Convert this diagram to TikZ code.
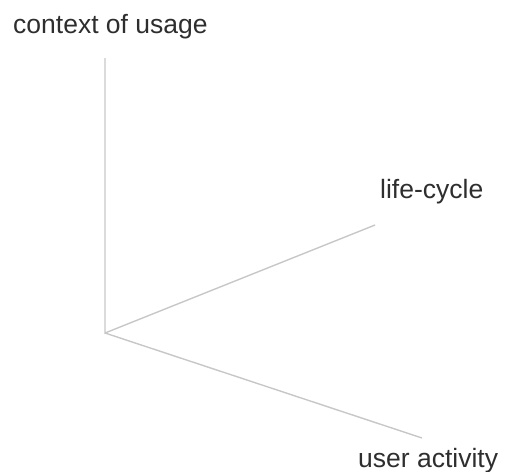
\documentclass[tikz,border=0pt]{standalone}
\usepackage{fontspec}
\setmainfont{Liberation Sans}
\begin{document}
\begin{tikzpicture}[x=1pt,y=-1pt,
  axis/.style={draw=black!22,line width=1.4pt},
  axislabel/.style={anchor=base west,inner sep=0pt,text=black!82,font=\fontsize{26.5}{30}\selectfont}]
\useasboundingbox (0,0) rectangle (505,471);
% origin of the three axes
\coordinate (o) at (105,333);
\coordinate (ctx) at (105,58);
\coordinate (life) at (375,225);
\coordinate (user) at (422,438);
\draw[axis] (ctx) -- (o) -- (life);
\draw[axis] (o) -- (user);
% axis labels
\node[axislabel] (lctx) at (13,33) {context of usage};
\node[axislabel] (llife) at (380,198) {life-cycle};
\node[axislabel] (luser) at (358,467) {user activity};
\end{tikzpicture}
\end{document}
